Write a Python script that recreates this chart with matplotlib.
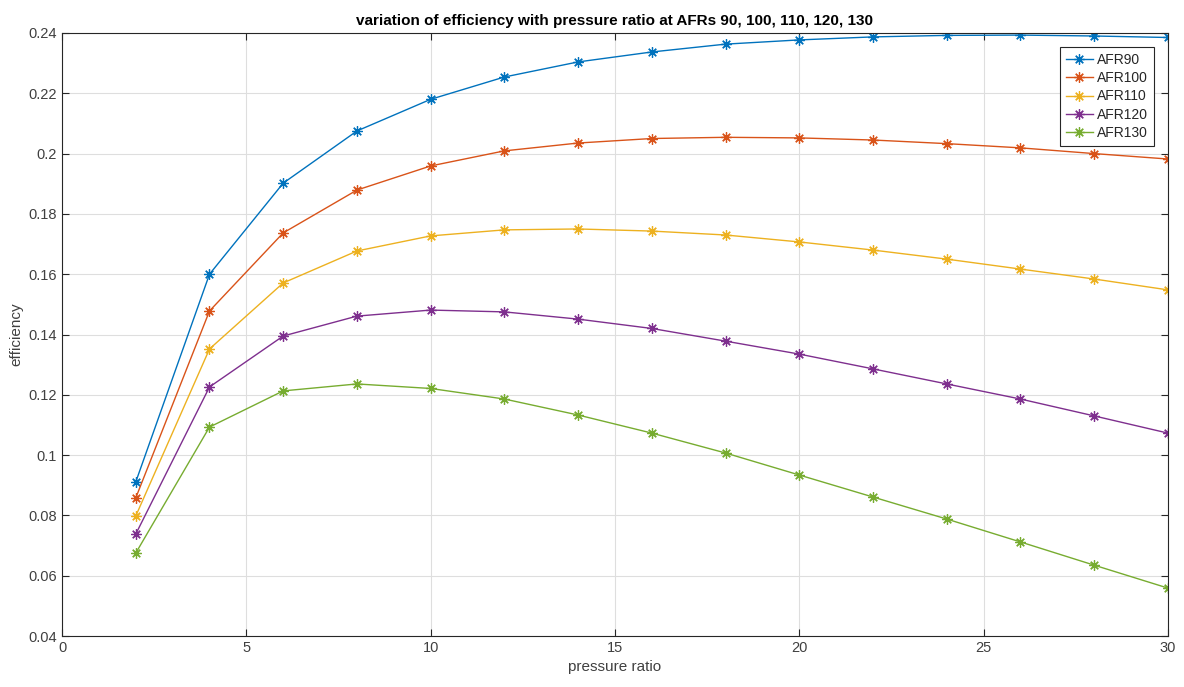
import matplotlib
matplotlib.use("Agg")
import matplotlib.pyplot as plt
from matplotlib.ticker import FuncFormatter

plt.rcParams['font.family'] = ['Liberation Sans', 'DejaVu Sans']

# pressure ratios
pr = [2, 4, 6, 8, 10, 12, 14, 16, 18, 20, 22, 24, 26, 28, 30]

afr90 = [0.0911, 0.1600, 0.1902, 0.2075, 0.2180, 0.2254, 0.2304, 0.2337, 0.2363,
         0.2377, 0.2387, 0.2392, 0.2393, 0.2390, 0.2385]
afr100 = [0.0858, 0.1478, 0.1737, 0.1879, 0.1959, 0.2009, 0.2035, 0.2050, 0.2054,
          0.2052, 0.2045, 0.2033, 0.2019, 0.2000, 0.1982]
afr110 = [0.0798, 0.1352, 0.1571, 0.1677, 0.1727, 0.1747, 0.1750, 0.1743, 0.1730,
          0.1707, 0.1680, 0.1650, 0.1617, 0.1584, 0.1548]
afr120 = [0.0738, 0.1226, 0.1395, 0.1461, 0.1481, 0.1475, 0.1451, 0.1420, 0.1378,
          0.1335, 0.1286, 0.1236, 0.1186, 0.1130, 0.1073]
afr130 = [0.0675, 0.1093, 0.1213, 0.1236, 0.1221, 0.1186, 0.1133, 0.1073, 0.1007,
          0.0934, 0.0861, 0.0788, 0.0712, 0.0635, 0.0559]

series = [afr90, afr100, afr110, afr120, afr130]
labels = ['AFR90', 'AFR100', 'AFR110', 'AFR120', 'AFR130']
colors = ['#0072BD', '#D95319', '#EDB120', '#7E2F8E', '#77AC30']

fig = plt.figure(figsize=(11.84, 6.87), dpi=100)
ax = fig.add_axes([0.0524, 0.0742, 0.934, 0.8778])

# asterisk marker like MATLAB '*'
star = (8, 2, 0)
for vals, lab, c in zip(series, labels, colors):
    ax.plot(pr, vals, color=c, marker=star, markersize=7.5, markeredgewidth=0.9,
            linewidth=1.0, label=lab)

ax.set_xlim(0, 30)
ax.set_ylim(0.04, 0.24)
ax.set_xticks([0, 5, 10, 15, 20, 25, 30])
ax.set_yticks([0.04, 0.06, 0.08, 0.1, 0.12, 0.14, 0.16, 0.18, 0.2, 0.22, 0.24])
ax.yaxis.set_major_formatter(FuncFormatter(lambda v, p: '%g' % round(v, 2)))
ax.grid(True, color='#dedede', linewidth=0.8)
ax.set_axisbelow(True)
ax.tick_params(direction='in', top=True, right=True, labelsize=10.5, colors='#262626',
               labelcolor='#404040', length=5, width=0.8)
for s in ax.spines.values():
    s.set_color('#262626')
    s.set_linewidth(0.8)

ax.set_xlabel('pressure ratio', fontsize=11, color='#404040')
ax.set_ylabel('efficiency', fontsize=11, color='#404040')
ax.set_title('variation of efficiency with pressure ratio at AFRs 90, 100, 110, 120, 130',
             fontsize=11, fontweight='bold', pad=6)

leg = ax.legend(loc='upper right', bbox_to_anchor=(0.9875, 0.977), fontsize=10,
                fancybox=False, edgecolor='#262626', framealpha=1,
                handlelength=1.9, handletextpad=0.3, borderpad=0.45,
                labelspacing=0.3, borderaxespad=0)
leg.get_frame().set_linewidth(0.8)
for t in leg.get_texts():
    t.set_color('#262626')

fig.savefig('out.png', dpi=100)
